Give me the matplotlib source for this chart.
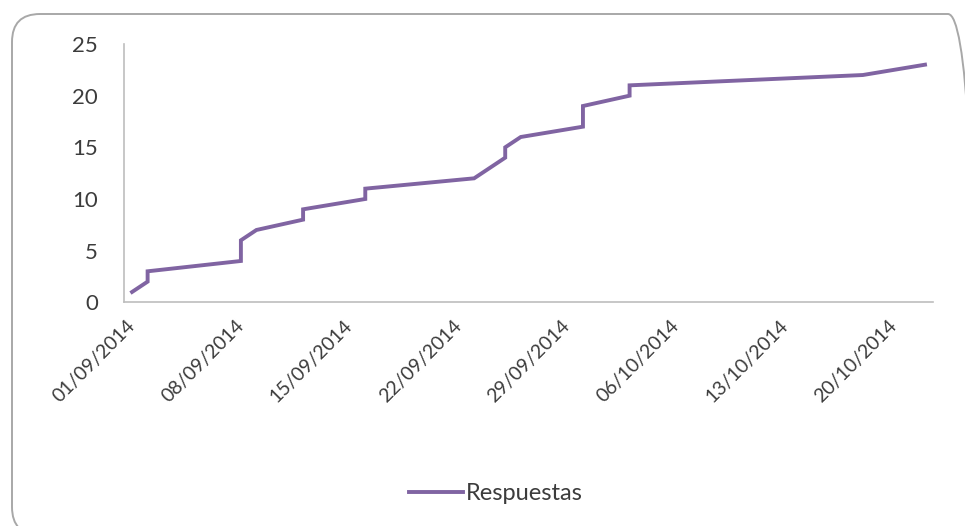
import datetime as dt
import matplotlib
matplotlib.use("Agg")
import matplotlib.pyplot as plt
import matplotlib.dates as mdates
from matplotlib.patches import FancyBboxPatch

# cumulative survey answers, one entry per answer received (same day repeats)
fechas = ['01/09/2014', '02/09/2014', '02/09/2014', '08/09/2014', '08/09/2014',
          '09/09/2014', '12/09/2014', '12/09/2014', '16/09/2014', '16/09/2014',
          '23/09/2014', '25/09/2014', '25/09/2014', '26/09/2014', '30/09/2014',
          '30/09/2014', '03/10/2014', '03/10/2014', '18/10/2014', '22/10/2014']
respuestas = [1, 2, 3, 4, 6, 7, 8, 9, 10, 11, 12, 14, 15, 16, 17, 19, 20, 21, 22, 23]

etiquetas_x = ['01/09/2014', '08/09/2014', '15/09/2014', '22/09/2014',
               '29/09/2014', '06/10/2014', '13/10/2014', '20/10/2014']
etiquetas_y = [0, 5, 10, 15, 20, 25]

plt.rcParams['font.family'] = ['Lato', 'DejaVu Sans']
gris_texto = '#3c3c3c'
gris_eje = '#bdbdbd'

def a_fecha(s):
    return dt.datetime.strptime(s, '%d/%m/%Y')

x = [a_fecha(f) for f in fechas]

fig = plt.figure(figsize=(9.65, 5.26), dpi=100)
ax = fig.add_axes([0.1288, 0.4253, 0.8378, 0.491])

ax.plot(x, respuestas, color='#8064A2', lw=2.8, solid_joinstyle='miter',
        label='Respuestas')

inicio = mdates.date2num(x[0])
ax.set_xlim(inicio - 0.5, inicio + 51.5)
ax.set_ylim(0, 25)

ax.set_xticks([mdates.date2num(a_fecha(e)) for e in etiquetas_x])
ax.set_xticklabels(etiquetas_x, rotation=45, ha='right', va='center',
                   rotation_mode='anchor', fontsize=14, color=gris_texto)
ax.set_yticks(etiquetas_y)
ax.set_yticklabels([str(v) for v in etiquetas_y], fontsize=16, color=gris_texto)
ax.tick_params(axis='both', length=0)
ax.tick_params(axis='y', pad=19)
ax.tick_params(axis='x', pad=15)

for lado in ['top', 'right']:
    ax.spines[lado].set_visible(False)
for lado in ['left', 'bottom']:
    ax.spines[lado].set_color(gris_eje)
    ax.spines[lado].set_linewidth(1.2)

ley = fig.legend(loc='center', bbox_to_anchor=(0.514, 0.061), frameon=False,
                 fontsize=17, handlelength=2.3, handletextpad=0.12,
                 borderpad=0)
for t in ley.get_texts():
    t.set_color(gris_texto)

# rounded outer frame of the chart area
marco = FancyBboxPatch((0.12, -0.09), 9.64, 5.21,
                       boxstyle='round,pad=0,rounding_size=0.28',
                       transform=fig.dpi_scale_trans, facecolor='none',
                       edgecolor='#a8a8a8', lw=1.4, clip_on=False)
fig.patches.append(marco)

fig.savefig('out.png', dpi=100)
